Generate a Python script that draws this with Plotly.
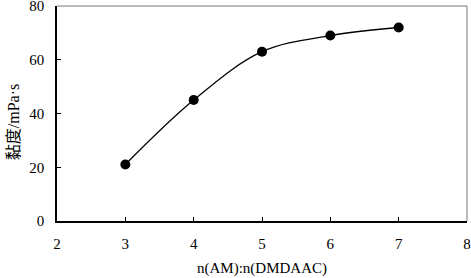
import plotly.graph_objects as go

ratio = [3, 4, 5, 6, 7]
viscosity = [21, 45, 63, 69, 72]
x_ticks = [2, 3, 4, 5, 6, 7, 8]
y_ticks = [0, 20, 40, 60, 80]

serif = "Liberation Serif"

fig = go.Figure()
fig.add_trace(go.Scatter(
    x=ratio, y=viscosity, mode="lines+markers",
    line=dict(color="black", width=1.3, shape="spline", smoothing=1.0),
    marker=dict(color="black", size=10),
    showlegend=False, hoverinfo="skip",
))

fig.update_layout(
    width=471, height=278,
    margin=dict(l=57, r=4, t=6, b=57),
    plot_bgcolor="white", paper_bgcolor="white",
    font=dict(family=serif, size=15, color="black"),
    xaxis=dict(
        range=[2, 8], tickvals=x_ticks, ticks="inside", ticklen=4, tickcolor="black",
        showline=True, linecolor="black", linewidth=1.5, mirror=False,
        showgrid=False, zeroline=False, automargin=False,
        ticklabelstandoff=8, ticklabeloverflow="allow",
        tickfont=dict(family=serif, size=15),
        title=dict(text="n(AM):n(DMDAAC)", standoff=12, font=dict(family=serif, size=15)),
    ),
    yaxis=dict(
        range=[0, 80], tickvals=y_ticks, ticks="inside", ticklen=4, tickcolor="black",
        showline=True, linecolor="black", linewidth=1.5, mirror=False,
        showgrid=False, zeroline=False, automargin=False,
        ticklabelstandoff=8, ticklabeloverflow="allow",
        tickfont=dict(family=serif, size=15),
    ),
    annotations=[
        dict(text="黏度/mPa·s", xref="paper", yref="paper",
             x=-0.107, y=0.46, xanchor="center", yanchor="middle",
             textangle=-90, showarrow=False,
             font=dict(family="Liberation Serif, Noto Sans CJK SC", size=16, color="black")),
    ],
    shapes=[
        dict(type="line", xref="paper", yref="paper", x0=0, x1=1, y0=1, y1=1,
             line=dict(color="#777777", width=1)),
        dict(type="line", xref="paper", yref="paper", x0=1, x1=1, y0=0, y1=1,
             line=dict(color="#777777", width=1)),
    ],
)

fig.write_html(
    "out.html",
    config={"displayModeBar": False},
    post_script="document.body.style.margin='0px';document.body.style.overflow='hidden';",
)
